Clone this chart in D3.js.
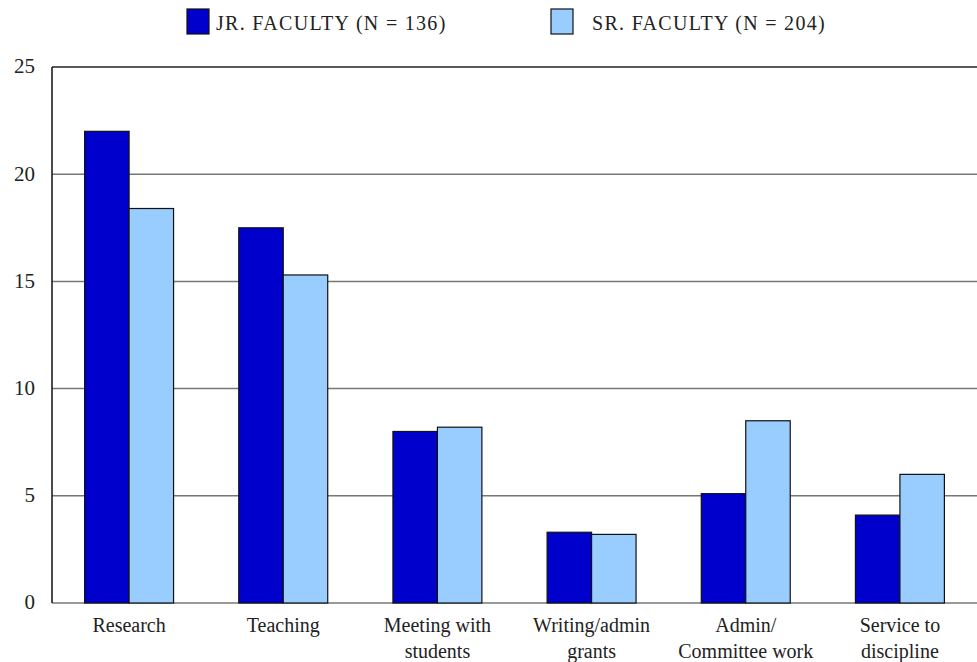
<!DOCTYPE html>
<html>
<head>
<meta charset="utf-8">
<script src="https://cdn.jsdelivr.net/npm/d3@7"></script>
<style>
  body { margin: 0; background: #fff; }
  svg text { font-family: "Liberation Serif", "DejaVu Serif", serif; fill: #222; }
</style>
</head>
<body>
<div id="chart"></div>
<script>
// categories and values (hours per week)
var categories = ["Research", "Teaching", "Meeting with students", "Writing/admin grants", "Admin/ Committee work", "Service to discipline"];
var categoryLines = [["Research"], ["Teaching"], ["Meeting with", "students"], ["Writing/admin", "grants"], ["Admin/", "Committee work"], ["Service to", "discipline"]];
var seriesNames = ["JR. FACULTY (N = 136)", "SR. FACULTY (N = 204)"];
var jrValues = [22.0, 17.5, 8.0, 3.3, 5.1, 4.1];
var srValues = [18.4, 15.3, 8.2, 3.2, 8.5, 6.0];
var yTicks = [0, 5, 10, 15, 20, 25];
var colors = ["#0000cc", "#99ccff"];

var width = 977,
    height = 662;
var margin = { top: 67, right: 0, bottom: 59, left: 52 };

var svg = d3.select("#chart")
    .append("svg")
    .attr("width", width)
    .attr("height", height);

var x = d3.scaleBand()
    .domain(categories)
    .range([margin.left, width - margin.right])
    .paddingInner(0.423)
    .paddingOuter(0.2115);

var xSub = d3.scaleBand()
    .domain([0, 1])
    .range([0, x.bandwidth()]);

var y = d3.scaleLinear()
    .domain([0, 25])
    .range([height - margin.bottom, margin.top]);

// grille horizontale
svg.append("g")
    .selectAll("line")
    .data(yTicks)
    .enter()
    .append("line")
    .attr("x1", margin.left)
    .attr("x2", width - margin.right)
    .attr("y1", function (d) { return y(d); })
    .attr("y2", function (d) { return y(d); })
    .attr("stroke", function (d) { return d === 25 ? "#222" : "#777"; })
    .attr("stroke-width", 1.5);

// axe y (ligne + étiquettes)
svg.append("line")
    .attr("x1", margin.left)
    .attr("x2", margin.left)
    .attr("y1", y(25))
    .attr("y2", y(0))
    .attr("stroke", "#111")
    .attr("stroke-width", 1.5);

svg.append("g")
    .selectAll("text")
    .data(yTicks)
    .enter()
    .append("text")
    .attr("x", 35)
    .attr("y", function (d) { return y(d); })
    .attr("dy", "0.3em")
    .attr("text-anchor", "end")
    .style("font-size", "21px")
    .text(function (d) { return d; });

// barres
var groups = svg.append("g")
    .selectAll("g")
    .data(categories)
    .enter()
    .append("g")
    .attr("transform", function (d) { return "translate(" + x(d) + ",0)"; });

groups.selectAll("rect")
    .data(function (d, i) { return [jrValues[i], srValues[i]]; })
    .enter()
    .append("rect")
    .attr("x", function (d, j) { return xSub(j); })
    .attr("y", function (d) { return y(d); })
    .attr("width", xSub.bandwidth())
    .attr("height", function (d) { return y(0) - y(d); })
    .attr("fill", function (d, j) { return colors[j]; })
    .attr("stroke", "#111")
    .attr("stroke-width", 1.2);

// étiquettes des catégories
var labels = svg.append("g")
    .selectAll("text")
    .data(categories)
    .enter()
    .append("text")
    .attr("x", function (d) { return x(d) + x.bandwidth() / 2; })
    .attr("y", 632)
    .attr("text-anchor", "middle")
    .style("font-size", "20px");

labels.selectAll("tspan")
    .data(function (d, i) { return categoryLines[i]; })
    .enter()
    .append("tspan")
    .attr("x", function () { return d3.select(this.parentNode).attr("x"); })
    .attr("dy", function (d, k) { return k === 0 ? 0 : 26; })
    .text(function (d) { return d; });

// légende
var legendX = [187, 551];
var legend = svg.append("g")
    .selectAll("g")
    .data(seriesNames)
    .enter()
    .append("g")
    .attr("transform", function (d, i) { return "translate(" + legendX[i] + ",9)"; });

legend.append("rect")
    .attr("width", 22)
    .attr("height", 25)
    .attr("fill", function (d, i) { return colors[i]; })
    .attr("stroke", "#111")
    .attr("stroke-width", 1.2);

legend.append("text")
    .attr("x", function (d, i) { return i === 0 ? 29 : 41; })
    .attr("y", 21)
    .style("font-size", "20px")
    .style("letter-spacing", "1.3px")
    .text(function (d) { return d; });
</script>
</body>
</html>
